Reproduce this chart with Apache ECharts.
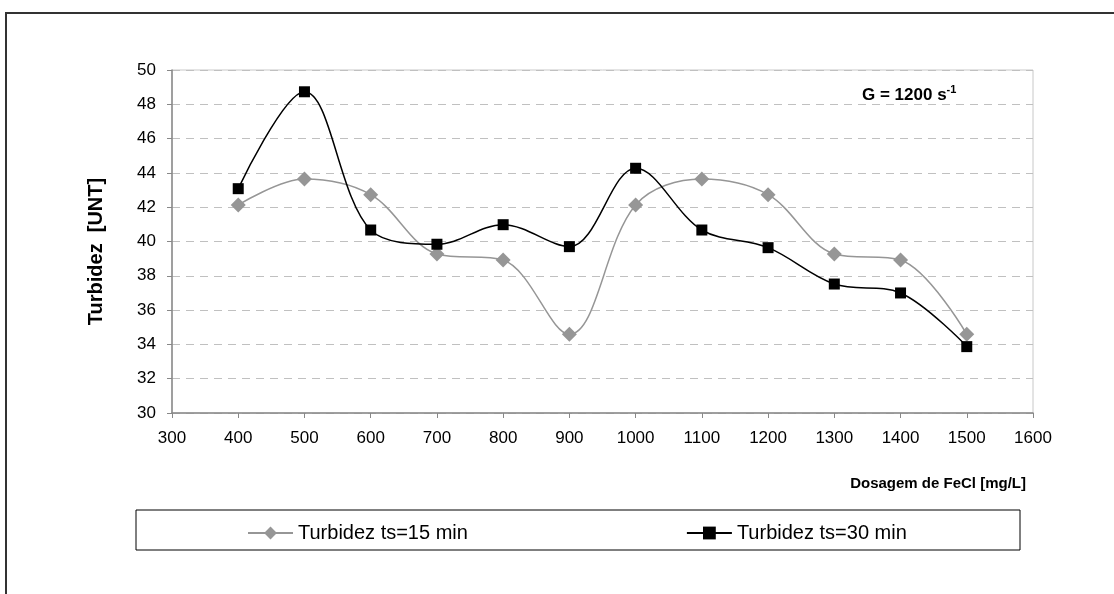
<!DOCTYPE html>
<html>
<head>
<meta charset="utf-8">
<script src="https://cdn.jsdelivr.net/npm/echarts@6/dist/echarts.min.js"></script>
<style>
  html, body { margin: 0; padding: 0; background: #fff; }
  #chart { width: 1114px; height: 594px; }
</style>
</head>
<body>
<div id="chart"></div>
<script>
const dosagem = [400, 500, 600, 700, 800, 900, 1000, 1100, 1200, 1300, 1400, 1500]
const turbidez15 = [42.13, 43.64, 42.73, 39.27, 38.92, 34.59, 42.13, 43.64, 42.73, 39.27, 38.92, 34.59]
const turbidez30 = [43.08, 48.73, 40.67, 39.84, 40.98, 39.7, 44.27, 40.67, 39.64, 37.52, 37.0, 33.87]

const font = 'Arial, "Liberation Sans", sans-serif'
const chart = echarts.init(document.getElementById('chart'))

const option = {
  animation: false,
  textStyle: { fontFamily: font },
  grid: {
    left: 172,
    right: 81,
    top: 70,
    bottom: 181,
    show: true,
    borderColor: '#c8c8c8',
    borderWidth: 1
  },
  graphic: [
    {
      type: 'rect',
      shape: { x: 6, y: 13, width: 1140, height: 620 },
      style: { fill: 'none', stroke: '#333', lineWidth: 2 },
      silent: true,
      z: -1
    },
    {
      type: 'rect',
      shape: { x: 136, y: 510, width: 884, height: 40 },
      style: { fill: 'none', stroke: '#000', lineWidth: 1 },
      silent: true
    },
    {
      type: 'text',
      left: 862,
      top: 84,
      style: {
        text: '{b|G = 1200 s}{sup|-1}',
        rich: {
          b: { fontSize: 17, fontWeight: 'bold', fontFamily: font, fill: '#000' },
          sup: { fontSize: 11, fontWeight: 'bold', fontFamily: font, fill: '#000', verticalAlign: 'top', padding: [0, 0, 12, 0] }
        }
      }
    }
  ],
  legend: {
    left: 242,
    top: 518,
    itemWidth: 45,
    itemHeight: 16,
    itemGap: 218,
    textStyle: { fontSize: 20, color: '#000', fontFamily: font },
    data: ['Turbidez ts=15 min', 'Turbidez ts=30 min']
  },
  xAxis: {
    type: 'value',
    min: 300,
    max: 1600,
    interval: 100,
    name: 'Dosagem de FeCl [mg/L]',
    nameLocation: 'end',
    nameGap: 0,
    nameTextStyle: {
      fontSize: 15,
      fontWeight: 'bold',
      color: '#000',
      align: 'right',
      verticalAlign: 'top',
      padding: [63, 7, 0, 0]
    },
    axisLine: { lineStyle: { color: '#888', width: 1.5 } },
    axisTick: { show: true, length: 5, lineStyle: { color: '#888' } },
    axisLabel: { fontSize: 17, color: '#000', margin: 17, formatter: v => String(v) },
    splitLine: { show: false }
  },
  yAxis: {
    type: 'value',
    min: 30,
    max: 50,
    interval: 2,
    name: 'Turbidez  [UNT]',
    nameLocation: 'middle',
    nameGap: 66,
    nameTextStyle: { fontSize: 20, fontWeight: 'bold', color: '#000', padding: [0, 20, 0, 0] },
    axisLine: { show: true, lineStyle: { color: '#888', width: 1.5 } },
    axisTick: { show: true, length: 5, lineStyle: { color: '#888' } },
    axisLabel: { fontSize: 17, color: '#000', margin: 16 },
    splitLine: { show: true, lineStyle: { color: '#c0c0c0', type: [8, 6], width: 1 } }
  },
  series: [
    {
      name: 'Turbidez ts=15 min',
      type: 'line',
      smooth: 0.35,
      data: dosagem.map((d, i) => [d, turbidez15[i]]),
      symbol: 'diamond',
      symbolSize: 15,
      itemStyle: { color: '#969696' },
      lineStyle: { color: '#969696', width: 1.5 },
      z: 2
    },
    {
      name: 'Turbidez ts=30 min',
      type: 'line',
      smooth: 0.35,
      data: dosagem.map((d, i) => [d, turbidez30[i]]),
      symbol: 'rect',
      symbolSize: 11,
      itemStyle: { color: '#000' },
      lineStyle: { color: '#000', width: 1.5 },
      z: 3
    }
  ]
}

chart.setOption(option)
</script>
</body>
</html>
